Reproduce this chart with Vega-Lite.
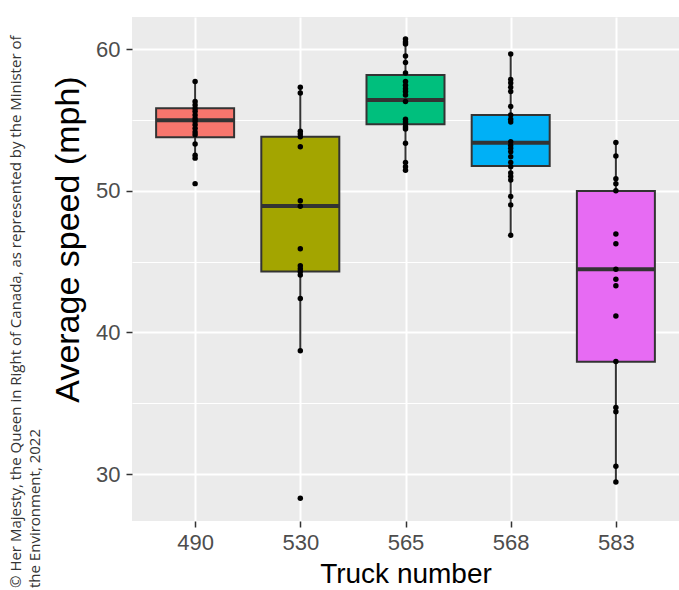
{
  "$schema": "https://vega.github.io/schema/vega-lite/v6.json",
  "width": 547,
  "height": 504,
  "autosize": {"type": "none"},
  "padding": {"left": 132, "top": 17, "right": 0, "bottom": 69},
  "background": "white",
  "title": {
    "text": ["© Her Majesty, the Queen in Right of Canada, as represented by the Minister of", "the Environment, 2022"],
    "orient": "left",
    "anchor": "start",
    "frame": "bounds",
    "offset": 8,
    "font": "Open Sans",
    "fontSize": 15,
    "fontWeight": "normal",
    "color": "#333333",
    "lineHeight": 19
  },
  "datasets": {
    "stats": [
      {"truck": "490", "lower": 52.3, "q1": 53.77, "median": 54.97, "q3": 55.82, "upper": 57.7},
      {"truck": "530", "lower": 38.7, "q1": 44.29, "median": 48.92, "q3": 53.8, "upper": 57.3},
      {"truck": "565", "lower": 51.46, "q1": 54.69, "median": 56.4, "q3": 58.17, "upper": 60.7},
      {"truck": "568", "lower": 46.87, "q1": 51.74, "median": 53.39, "q3": 55.34, "upper": 59.65},
      {"truck": "583", "lower": 29.46, "q1": 37.93, "median": 44.45, "q3": 49.98, "upper": 53.41}
    ],
    "points": [
      {"truck": "490", "speed": 57.7}, {"truck": "490", "speed": 56.3}, {"truck": "490", "speed": 56.05}, {"truck": "490", "speed": 55.8},
      {"truck": "490", "speed": 55.6}, {"truck": "490", "speed": 55.35}, {"truck": "490", "speed": 55.1}, {"truck": "490", "speed": 54.9},
      {"truck": "490", "speed": 54.65}, {"truck": "490", "speed": 54.4}, {"truck": "490", "speed": 54.15}, {"truck": "490", "speed": 53.95},
      {"truck": "490", "speed": 53.3}, {"truck": "490", "speed": 52.5}, {"truck": "490", "speed": 52.3}, {"truck": "490", "speed": 50.5},
      {"truck": "530", "speed": 57.3}, {"truck": "530", "speed": 56.9}, {"truck": "530", "speed": 54.2}, {"truck": "530", "speed": 54.0},
      {"truck": "530", "speed": 53.8}, {"truck": "530", "speed": 53.1}, {"truck": "530", "speed": 49.3}, {"truck": "530", "speed": 48.9},
      {"truck": "530", "speed": 45.9}, {"truck": "530", "speed": 44.7}, {"truck": "530", "speed": 44.5}, {"truck": "530", "speed": 44.3},
      {"truck": "530", "speed": 44.05}, {"truck": "530", "speed": 42.4}, {"truck": "530", "speed": 38.7}, {"truck": "530", "speed": 28.3},
      {"truck": "565", "speed": 60.7}, {"truck": "565", "speed": 60.5}, {"truck": "565", "speed": 60.35}, {"truck": "565", "speed": 59.5},
      {"truck": "565", "speed": 59.05}, {"truck": "565", "speed": 58.3}, {"truck": "565", "speed": 57.7}, {"truck": "565", "speed": 57.45},
      {"truck": "565", "speed": 57.2}, {"truck": "565", "speed": 57.0}, {"truck": "565", "speed": 56.75}, {"truck": "565", "speed": 56.3},
      {"truck": "565", "speed": 55.05}, {"truck": "565", "speed": 54.85}, {"truck": "565", "speed": 54.7}, {"truck": "565", "speed": 54.5},
      {"truck": "565", "speed": 54.35}, {"truck": "565", "speed": 53.35}, {"truck": "565", "speed": 52.0}, {"truck": "565", "speed": 51.7},
      {"truck": "565", "speed": 51.45},
      {"truck": "568", "speed": 59.65}, {"truck": "568", "speed": 57.85}, {"truck": "568", "speed": 57.6}, {"truck": "568", "speed": 57.3},
      {"truck": "568", "speed": 57.0}, {"truck": "568", "speed": 55.95}, {"truck": "568", "speed": 55.35}, {"truck": "568", "speed": 55.05},
      {"truck": "568", "speed": 54.85}, {"truck": "568", "speed": 53.45}, {"truck": "568", "speed": 53.2}, {"truck": "568", "speed": 53.0},
      {"truck": "568", "speed": 52.75}, {"truck": "568", "speed": 52.4}, {"truck": "568", "speed": 52.0}, {"truck": "568", "speed": 51.7},
      {"truck": "568", "speed": 51.25}, {"truck": "568", "speed": 51.0}, {"truck": "568", "speed": 50.75}, {"truck": "568", "speed": 49.6},
      {"truck": "568", "speed": 49.0}, {"truck": "568", "speed": 46.85},
      {"truck": "583", "speed": 53.4}, {"truck": "583", "speed": 52.45}, {"truck": "583", "speed": 50.85}, {"truck": "583", "speed": 50.5},
      {"truck": "583", "speed": 50.0}, {"truck": "583", "speed": 46.95}, {"truck": "583", "speed": 46.25}, {"truck": "583", "speed": 44.45},
      {"truck": "583", "speed": 43.75}, {"truck": "583", "speed": 43.3}, {"truck": "583", "speed": 41.15}, {"truck": "583", "speed": 37.95},
      {"truck": "583", "speed": 34.7}, {"truck": "583", "speed": 34.4}, {"truck": "583", "speed": 30.55}, {"truck": "583", "speed": 29.45}
    ]
  },
  "config": {
    "view": {"fill": "#EBEBEB", "stroke": null},
    "font": "Liberation Sans",
    "axis": {
      "domain": false,
      "gridColor": "#FFFFFF",
      "gridWidth": 2,
      "tickColor": "#333333",
      "tickWidth": 1.5,
      "tickSize": 6,
      "labelFont": "Liberation Sans",
      "labelFontSize": 22,
      "labelColor": "#4D4D4D",
      "titleFont": "Liberation Sans",
      "titleFontWeight": "normal",
      "titleColor": "#000000"
    }
  },
  "resolve": {"axis": {"y": "independent"}},
  "layer": [
    {
      "data": {"name": "stats"},
      "mark": {"type": "rule", "color": "#333333", "strokeWidth": 2},
      "encoding": {
        "x": {"field": "truck", "type": "nominal", "sort": null,
              "scale": {"type": "point", "padding": 0.6},
              "axis": {"title": "Truck number", "titleFontSize": 28, "labelAngle": 0, "labelPadding": 5, "titlePadding": 7, "grid": true}},
        "y": {"field": "lower", "type": "quantitative",
              "scale": {"domain": [26.69, 62.26], "nice": false, "zero": false},
              "axis": {"title": "Average speed (mph)", "orient": "left", "values": [30, 40, 50, 60], "titleFontSize": 34, "labelPadding": 6, "titleX": -47, "titleY": 222, "titleAnchor": null}},
        "y2": {"field": "upper"}
      }
    },
    {
      "data": {"name": "stats"},
      "mark": {"type": "bar", "stroke": "#333333", "strokeWidth": 2, "size": 78, "opacity": 1},
      "encoding": {
        "x": {"field": "truck", "type": "nominal", "sort": null},
        "y": {"field": "q1", "type": "quantitative",
              "axis": {"title": null, "orient": "right", "values": [35, 45, 55], "labels": false, "ticks": false, "domain": false, "grid": true, "gridWidth": 1}},
        "y2": {"field": "q3"},
        "fill": {"field": "truck", "type": "nominal", "legend": null,
                 "scale": {"range": ["#F8766D", "#A3A500", "#00BF7D", "#00B0F6", "#E76BF3"]}}
      }
    },
    {
      "data": {"name": "stats"},
      "mark": {"type": "tick", "color": "#333333", "thickness": 4, "size": 78, "opacity": 1},
      "encoding": {
        "x": {"field": "truck", "type": "nominal", "sort": null},
        "y": {"field": "median", "type": "quantitative", "axis": null}
      }
    },
    {
      "data": {"name": "points"},
      "mark": {"type": "circle", "color": "#000000", "size": 30, "opacity": 1},
      "encoding": {
        "x": {"field": "truck", "type": "nominal", "sort": null},
        "y": {"field": "speed", "type": "quantitative", "axis": null}
      }
    }
  ]
}
